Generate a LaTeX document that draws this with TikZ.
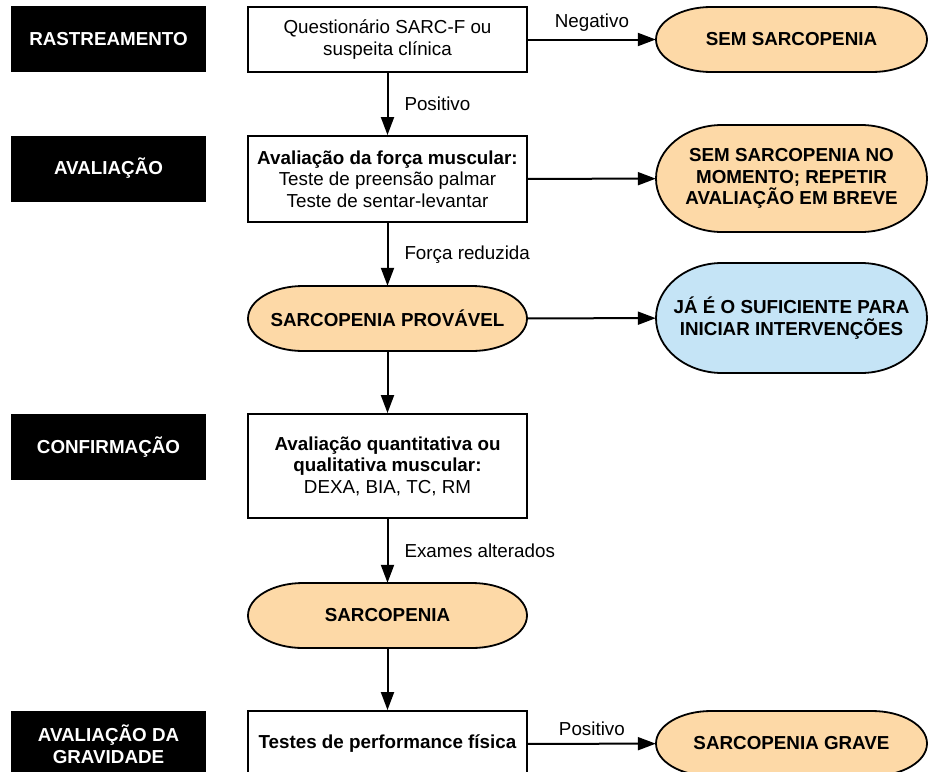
\documentclass[tikz,border=0pt]{standalone}
\usepackage{fontspec}
\setmainfont{Liberation Sans}
\usetikzlibrary{arrows.meta}
\definecolor{peach}{RGB}{253,217,167}
\definecolor{skyb}{RGB}{197,228,246}
\newcommand{\stadiumshape}[6]{%
 \pgfmathsetmacro{\stL}{#1-#3/2+#5}%
 \pgfmathsetmacro{\stR}{#1+#3/2-#5}%
 \pgfmathsetmacro{\stT}{#2-#4/2}%
 \pgfmathsetmacro{\stB}{#2+#4/2}%
 \pgfmathsetmacro{\stH}{#4/2}%
 \draw[shapeline, fill=#6] (\stL,\stT) -- (\stR,\stT)
   arc[start angle=90, end angle=-90, x radius=#5pt, y radius=\stH pt]
   -- (\stL,\stB)
   arc[start angle=270, end angle=90, x radius=#5pt, y radius=\stH pt] -- cycle;}
\tikzset{
  basefont/.style={font=\fontsize{18.8}{21.5}\selectfont},
  boldfont/.style={font=\fontsize{18.8}{21.5}\selectfont\bfseries},
  shapeline/.style={draw=black, line width=1.8pt},
  lbl/.style={boldfont, fill=black, text=white, minimum width=195pt,
    minimum height=66pt, inner sep=0pt, align=center},
  procbox/.style={basefont, draw=black, line width=1.9pt, fill=white,
    minimum width=279pt, inner sep=0pt, align=center},
  termtxt/.style={boldfont, inner sep=0pt, align=center},
  arr/.style={line width=2pt, -{Triangle[length=18pt,width=13pt]}},
  elbl/.style={basefont, inner sep=2pt},
}
\begin{document}
\begin{tikzpicture}[x=1pt, y=-1pt]
\useasboundingbox (0,0) rectangle (928,771);
\clip (0,0) rectangle (928,771);

% stage labels
\node[lbl] (l1) at (108.5,39) {RASTREAMENTO};
\node[lbl] (l2) at (108.5,168.5) {AVALIAÇÃO};
\node[lbl] (l3) at (108.5,447) {CONFIRMAÇÃO};
\node[lbl] (l4) at (108.5,744) {AVALIAÇÃO DA\\GRAVIDADE};

% process boxes
\node[procbox, minimum height=65pt] (b1) at (387.5,39.5)
  {Questionário SARC-F ou\\suspeita clínica};
\node[procbox, minimum height=86pt] (b2) at (387.5,179)
  {\textbf{Avaliação da força muscular:}\\Teste de preensão palmar\\Teste de sentar-levantar};
\node[procbox, minimum height=104pt] (b3) at (387.5,466)
  {\textbf{Avaliação quantitativa ou}\\\textbf{qualitativa muscular:}\\DEXA, BIA, TC, RM};
\node[procbox, minimum height=66pt] (b4) at (387.5,744)
  {\textbf{Testes de performance física}};

% terminal shapes
\stadiumshape{791.5}{39.5}{271}{65}{55}{peach}
\node[termtxt, minimum width=271pt, minimum height=65pt] (e1) at (791.5,39.5) {SEM SARCOPENIA};
\stadiumshape{791.5}{178.5}{271}{107}{66}{peach}
\node[termtxt, minimum width=271pt, minimum height=107pt] (e2) at (791.5,178.5)
  {SEM SARCOPENIA NO\\MOMENTO; REPETIR\\AVALIAÇÃO EM BREVE};
\stadiumshape{387.5}{318.5}{279}{65}{55}{peach}
\node[termtxt, minimum width=279pt, minimum height=65pt] (p) at (387.5,318.5) {SARCOPENIA PROVÁVEL};
\stadiumshape{791.5}{318}{271}{110}{66}{skyb}
\node[termtxt, minimum width=271pt, minimum height=110pt] (e3) at (791.5,318)
  {JÁ É O SUFICIENTE PARA\\INICIAR INTERVENÇÕES};
\stadiumshape{387.5}{615.5}{279}{65}{55}{peach}
\node[termtxt, minimum width=279pt, minimum height=65pt] (s) at (387.5,615.5) {SARCOPENIA};
\stadiumshape{791.5}{743.5}{271}{65}{55}{peach}
\node[termtxt, minimum width=271pt, minimum height=65pt] (e5) at (791.5,743.5) {SARCOPENIA GRAVE};

% connectors
\draw[arr] (b1) -- node[elbl, above=5pt] {Negativo} (e1);
\draw[arr] (b1) -- node[elbl, right=14pt] {Positivo} (b2);
\draw[arr] (b2) -- (e2);
\draw[arr] (b2) -- node[elbl, right=14pt] {Força reduzida} (p);
\draw[arr] (p) -- (e3);
\draw[arr] (p) -- (b3);
\draw[arr] (b3) -- node[elbl, right=14pt] {Exames alterados} (s);
\draw[arr] (s) -- (b4);
\draw[arr] (b4) -- node[elbl, above=5pt] {Positivo} (e5);
\end{tikzpicture}
\end{document}
